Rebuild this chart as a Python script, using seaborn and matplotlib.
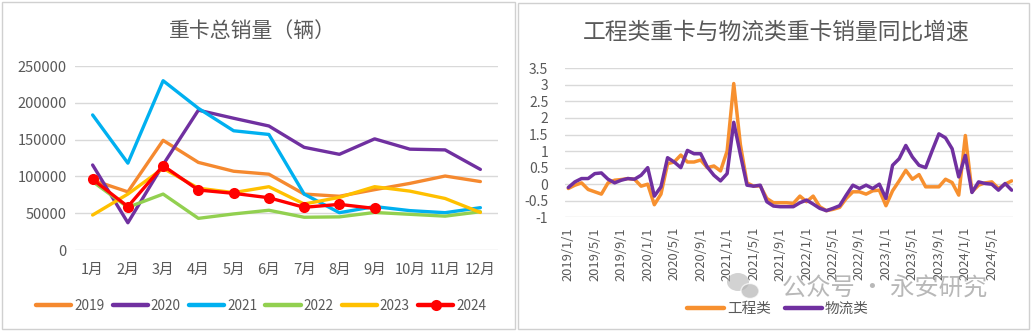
import numpy as np
import pandas as pd
import matplotlib
matplotlib.use("Agg")
import matplotlib.pyplot as plt
from matplotlib.patches import Rectangle, Ellipse
from matplotlib.lines import Line2D
import seaborn as sns

# ---------------- data ----------------
months = ['1月', '2月', '3月', '4月', '5月', '6月', '7月', '8月', '9月', '10月', '11月', '12月']
years = ['2019', '2020', '2021', '2022', '2023', '2024']
sales_2019 = [95000, 79000, 149000, 119000, 107000, 103000, 76000, 73000, 82000, 90500, 100500, 93000]
sales_2020 = [115500, 37000, 116000, 190000, 179000, 168500, 139500, 130000, 151000, 137000, 136000, 109500]
sales_2021 = [183500, 118000, 230000, 192500, 162000, 157000, 76000, 50700, 59000, 53500, 50700, 57500]
sales_2022 = [93000, 58000, 76000, 43000, 49000, 54000, 44500, 45000, 51000, 48500, 46000, 52000]
sales_2023 = [47500, 76000, 111000, 84000, 78000, 86000, 62500, 71500, 86000, 80000, 70000, 51000]
sales_2024 = [96000, 59000, 114500, 81500, 77000, 71000, 58000, 62000, 56500]

engineering_yoy = [-0.13, -0.03, 0.04, -0.16, -0.23, -0.30, 0.04, 0.12, 0.14, 0.17, 0.15, -0.06,
                   0.00, -0.62, -0.30, 0.62, 0.67, 0.88, 0.67, 0.67, 0.73, 0.50, 0.55, 0.40,
                   1.00, 3.04, 1.20, 0.04, -0.06, -0.05, -0.43, -0.56, -0.56, -0.56, -0.58, -0.36,
                   -0.53, -0.36, -0.68, -0.80, -0.76, -0.70, -0.43, -0.23, -0.23, -0.30, -0.20, -0.18,
                   -0.65, -0.20, 0.10, 0.42, 0.15, 0.29, -0.08, -0.08, -0.08, 0.15, 0.05, -0.33,
                   1.47, -0.23, -0.03, 0.04, 0.07, -0.13, 0.00, 0.10]
logistics_yoy = [-0.10, 0.07, 0.17, 0.17, 0.32, 0.34, 0.15, 0.04, 0.12, 0.17, 0.15, 0.27,
                 0.50, -0.36, -0.08, 0.80, 0.67, 0.50, 1.02, 0.92, 0.92, 0.52, 0.27, 0.10,
                 0.32, 1.87, 0.90, -0.03, -0.06, -0.03, -0.53, -0.66, -0.68, -0.68, -0.68, -0.56,
                 -0.48, -0.60, -0.73, -0.80, -0.73, -0.65, -0.33, -0.03, -0.13, -0.03, -0.13, 0.00,
                 -0.43, 0.57, 0.77, 1.17, 0.82, 0.57, 0.50, 1.02, 1.52, 1.40, 1.07, 0.22,
                 0.87, -0.25, 0.07, 0.02, 0.00, -0.18, 0.02, -0.18]
series_names = ['工程类', '物流类']
dates = pd.date_range('2019-01-01', periods=len(engineering_yoy), freq='MS')
date_labels = [f"{d.year}/{d.month}/1" for d in dates]

# ---------------- style ----------------
sns.set_theme(style="white")
plt.rcParams['font.family'] = ['Noto Sans CJK SC', 'DejaVu Sans']
plt.rcParams['axes.unicode_minus'] = False

TXT = '#595959'
GRID = '#D9D9D9'
year_colors = {'2019': '#F5892F', '2020': '#7030A0', '2021': '#00B0F0',
               '2022': '#92D050', '2023': '#FFC000', '2024': '#FF0000'}
yoy_colors = {'工程类': '#F7902F', '物流类': '#7030A0'}

W, H = 1034, 333
fig = plt.figure(figsize=(W / 100, H / 100), dpi=100)


def px_axes(x0, x1, ytop, ybot):
    return fig.add_axes([x0 / W, 1 - ybot / H, (x1 - x0) / W, (ybot - ytop) / H])


# panel borders
for (x0, y0, x1, y1) in [(2, 2, 515, 329), (518, 3, 1029, 329)]:
    fig.patches.append(Rectangle((x0 / W, 1 - y1 / H), (x1 - x0) / W, (y1 - y0) / H,
                                 transform=fig.transFigure, fill=False,
                                 edgecolor='#D0D0D0', linewidth=1.0))

# ---------------- left chart ----------------
sales = {'2019': sales_2019, '2020': sales_2020, '2021': sales_2021,
         '2022': sales_2022, '2023': sales_2023, '2024': sales_2024}
rows = []
for y in years:
    for i, v in enumerate(sales[y]):
        rows.append({'pos': i, 'month': months[i], 'year': y, 'sales': v})
df_left = pd.DataFrame(rows)

ax1 = px_axes(75, 498, 66, 250)
for y in years:
    sub = df_left[df_left['year'] == y]
    sns.lineplot(data=sub, x='pos', y='sales', ax=ax1, color=year_colors[y],
                 linewidth=2.4, marker='o' if y == '2024' else None,
                 markersize=8 if y == '2024' else 0, markeredgewidth=0,
                 legend=False, zorder=3)
ax1.set_xlim(-0.5, 11.5)
ax1.set_ylim(0, 250000)
ax1.set_yticks(np.arange(0, 250001, 50000))
ax1.set_yticklabels([f"{int(v)}" for v in np.arange(0, 250001, 50000)])
ax1.set_xticks(range(12))
ax1.set_xticklabels(months)
ax1.grid(axis='y', color=GRID, linewidth=1.0)
ax1.grid(axis='x', visible=False)
for s in ax1.spines.values():
    s.set_visible(False)
ax1.tick_params(axis='y', length=0, pad=6, labelsize=10.5, labelcolor=TXT)
ax1.tick_params(axis='x', length=0, pad=9, labelsize=10.5, labelcolor=TXT)
ax1.set_xlabel('')
ax1.set_ylabel('')
ax1.set_facecolor('none')
fig.text(252 / W, 1 - 31 / H, '重卡总销量（辆）', ha='center', va='center',
         fontsize=15, color=TXT)

handles = []
for y in years:
    handles.append(Line2D([], [], color=year_colors[y], linewidth=3.2,
                          marker='o' if y == '2024' else None, markersize=8,
                          markeredgewidth=0))
fig.legend(handles, years, loc='center', bbox_to_anchor=(261 / W, 1 - 306 / H),
           ncol=6, frameon=False, fontsize=9.8, labelcolor=TXT,
           handlelength=2.6, handletextpad=0.2, columnspacing=0.6)

# ---------------- right chart ----------------
df_right = pd.DataFrame({
    'idx': list(range(len(engineering_yoy))) * 2,
    'value': engineering_yoy + logistics_yoy,
    'series': [series_names[0]] * len(engineering_yoy) + [series_names[1]] * len(logistics_yoy),
})

ax2 = px_axes(565, 1013, 68.3, 217.3)
sns.lineplot(data=df_right, x='idx', y='value', hue='series', palette=yoy_colors,
             hue_order=series_names, linewidth=2.5, ax=ax2, legend=False, zorder=3)
ax2.set_xlim(-0.5, 67.2)
ax2.set_ylim(-1, 3.5)
yt = np.arange(-1, 3.51, 0.5)
ax2.set_yticks(yt)
ax2.set_yticklabels([f"{v:g}" for v in yt])
tick_idx = list(range(0, len(date_labels), 4))
ax2.set_xticks(tick_idx)
ax2.set_xticklabels([date_labels[i] for i in tick_idx], rotation=90)
ax2.grid(axis='y', color=GRID, linewidth=1.0)
ax2.grid(axis='x', visible=False)
for s in ax2.spines.values():
    s.set_visible(False)
ax2.tick_params(axis='y', length=0, pad=12, labelsize=10, labelcolor=TXT)
ax2.tick_params(axis='x', length=0, pad=7, labelsize=9.3, labelcolor=TXT)
ax2.set_xlabel('')
ax2.set_ylabel('')
ax2.set_facecolor('none')
fig.text(776 / W, 1 - 32 / H, '工程类重卡与物流类重卡销量同比增速', ha='center', va='center',
         fontsize=16.4, color=TXT)

# watermark (wechat-like bubbles + text)
wm = '#B4B4B4'
fig.patches.append(Ellipse((738 / W, 1 - 282 / H), 22 / W, 18 / H, transform=fig.transFigure,
                           facecolor=wm, edgecolor='none', alpha=0.6, zorder=5))
fig.patches.append(Ellipse((750 / W, 1 - 291 / H), 18 / W, 15 / H, transform=fig.transFigure,
                           facecolor=wm, edgecolor='white', linewidth=1, alpha=0.7, zorder=5))
fig.text(885 / W, 1 - 289 / H, '公众号 · 永安研究', ha='center', va='center',
         fontsize=17.5, color='#A0A0A0', alpha=0.75, zorder=5)

h2 = [Line2D([], [], color=yoy_colors[n], linewidth=3.2) for n in series_names]
fig.legend(h2, series_names, loc='center', bbox_to_anchor=(778 / W, 1 - 309 / H),
           ncol=2, frameon=False, fontsize=10.5, labelcolor=TXT,
           handlelength=2.5, handletextpad=0.2, columnspacing=1.0)

fig.savefig('out.png', dpi=100)
